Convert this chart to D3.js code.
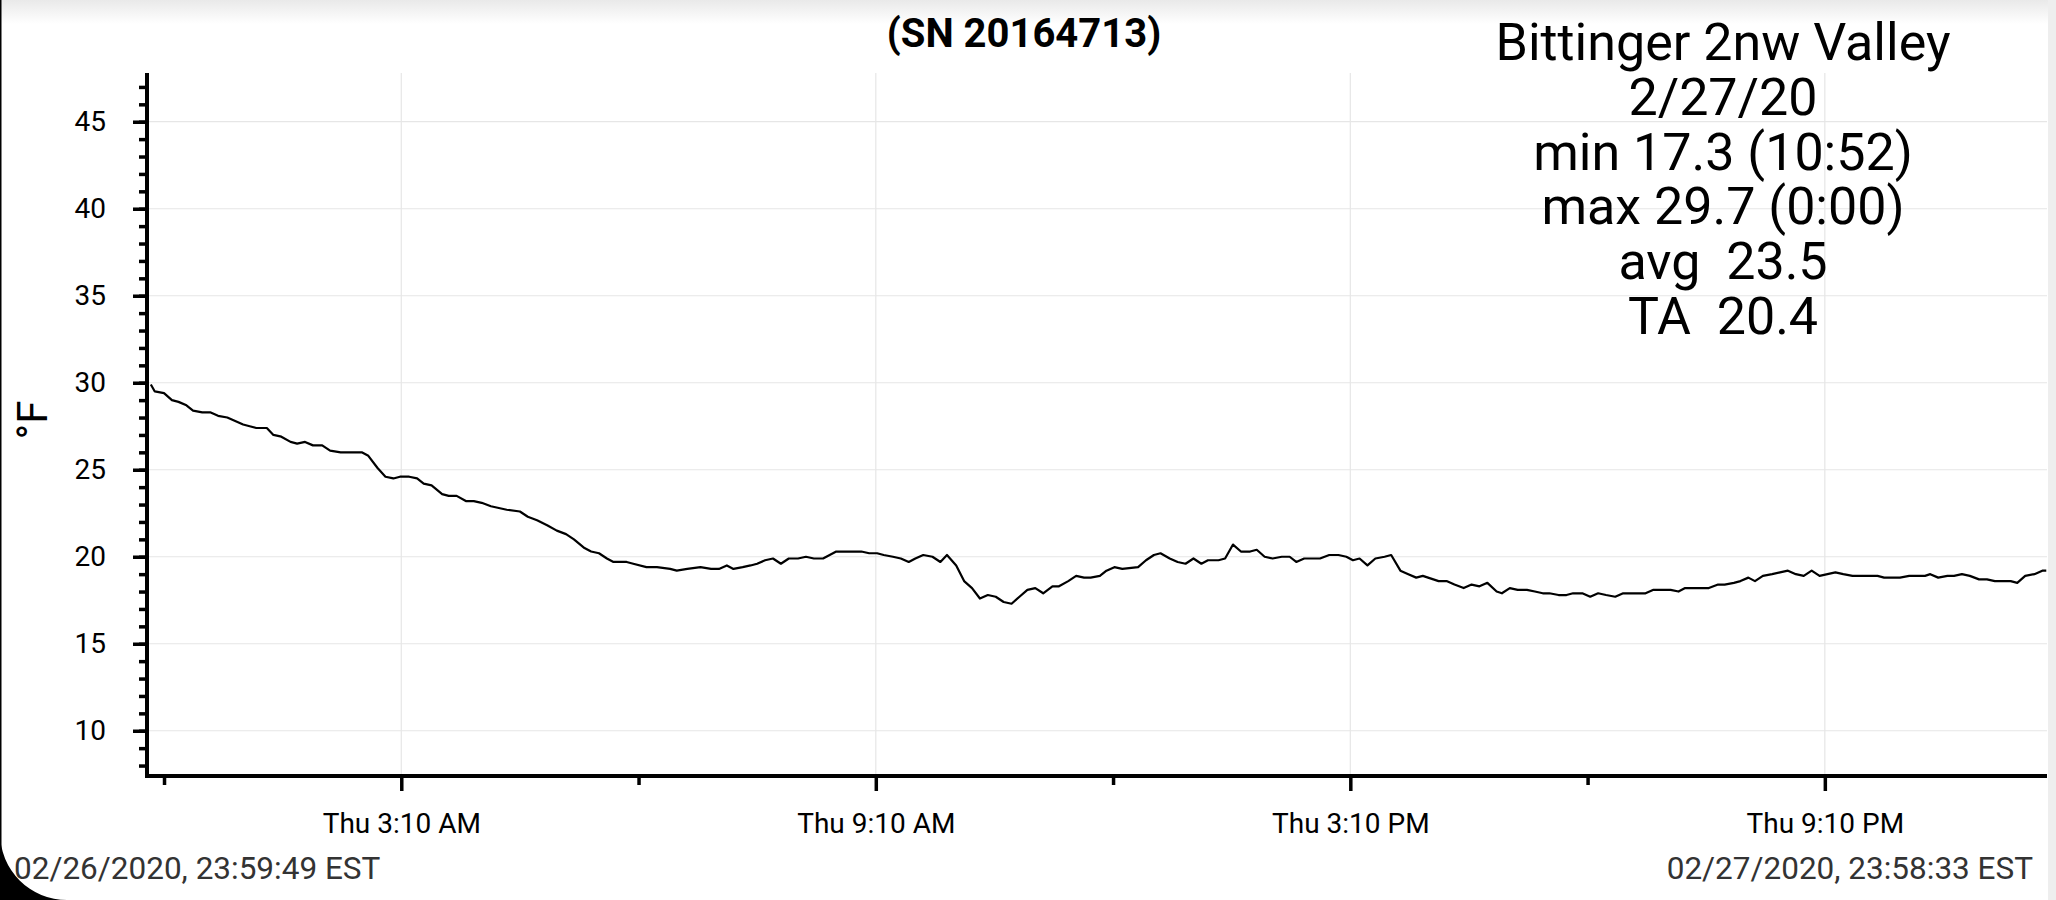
<head>
    <meta name="viewport" content="width=device-width, initial-scale=1">
    <style type="text/css">
        body { margin: 0; background: #ffffff; }
        text { font-family: Roboto, "Noto Sans", sans-serif; }
    </style>
    <script src="https://d3js.org/d3.v7.min.js"></script>
</head>
<body>
    <div id="chart">
        <script>

            // minutes after midnight 2/27/20 and temperature (F)
            const minutes = [
                0, 3, 10, 16, 21, 27, 32, 39, 45, 51, 58, 64, 70, 75, 80, 88, 93, 99, 106, 111,
                117, 123, 130, 136, 144, 149, 160, 165, 172, 178, 184, 189, 196, 202, 207, 213, 221, 226, 232, 239,
                245, 251, 258, 264, 270, 280, 286, 293, 301, 308, 315, 321, 329, 334, 340, 346, 351, 361, 366, 376,
                384, 394, 399, 407, 417, 425, 431, 437, 442, 449, 455, 460, 466, 472, 478, 484, 491, 497, 503, 510,
                515, 520, 526, 532, 539, 545, 551, 556, 563, 569, 575, 580, 586, 593, 599, 604, 611, 617, 623, 629,
                635, 641, 647, 653, 659, 665, 671, 677, 684, 689, 696, 702, 708, 713, 720, 725, 731, 737, 749, 755,
                761, 766, 773, 779, 785, 791, 797, 802, 810, 815, 821, 827, 834, 839, 845, 851, 858, 864, 869, 875,
                881, 887, 894, 901, 907, 912, 917, 923, 929, 936, 941, 948, 954, 960, 965, 973, 977, 983, 989, 996,
                1002, 1008, 1014, 1021, 1025, 1031, 1037, 1044, 1050, 1056, 1061, 1068, 1074, 1079, 1086, 1092, 1098, 1104, 1111, 1117,
                1124, 1134, 1140, 1146, 1153, 1159, 1164, 1170, 1177, 1182, 1189, 1194, 1201, 1206, 1212, 1217, 1223, 1230, 1236, 1242,
                1248, 1254, 1260, 1266, 1272, 1278, 1284, 1291, 1297, 1303, 1310, 1315, 1321, 1327, 1334, 1340, 1346, 1350, 1356, 1363,
                1368, 1374, 1380, 1387, 1393, 1399, 1406, 1411, 1416, 1422, 1429, 1435, 1438
            ];
            const tempsF = [
                29.9, 29.5, 29.4, 29.0, 28.9, 28.7, 28.4, 28.3, 28.3, 28.1, 28.0, 27.8, 27.6, 27.5, 27.4, 27.4, 27.0, 26.9, 26.6, 26.5,
                26.6, 26.4, 26.4, 26.1, 26.0, 26.0, 26.0, 25.8, 25.1, 24.6, 24.5, 24.6, 24.6, 24.5, 24.2, 24.1, 23.6, 23.5, 23.5, 23.2,
                23.2, 23.1, 22.9, 22.8, 22.7, 22.6, 22.3, 22.1, 21.8, 21.5, 21.3, 21.0, 20.5, 20.3, 20.2, 19.9, 19.7, 19.7, 19.6, 19.4,
                19.4, 19.3, 19.2, 19.3, 19.4, 19.3, 19.3, 19.5, 19.3, 19.4, 19.5, 19.6, 19.8, 19.9, 19.6, 19.9, 19.9, 20.0, 19.9, 19.9,
                20.1, 20.3, 20.3, 20.3, 20.3, 20.2, 20.2, 20.1, 20.0, 19.9, 19.7, 19.9, 20.1, 20.0, 19.7, 20.1, 19.5, 18.6, 18.2, 17.6,
                17.8, 17.7, 17.4, 17.3, 17.7, 18.1, 18.2, 17.9, 18.3, 18.3, 18.6, 18.9, 18.8, 18.8, 18.9, 19.2, 19.4, 19.3, 19.4, 19.8,
                20.1, 20.2, 19.9, 19.7, 19.6, 19.9, 19.6, 19.8, 19.8, 19.9, 20.7, 20.3, 20.3, 20.4, 20.0, 19.9, 20.0, 20.0, 19.7, 19.9,
                19.9, 19.9, 20.1, 20.1, 20.0, 19.8, 19.9, 19.5, 19.9, 20.0, 20.1, 19.2, 19.0, 18.8, 18.9, 18.7, 18.6, 18.6, 18.4, 18.2,
                18.4, 18.3, 18.5, 18.0, 17.9, 18.2, 18.1, 18.1, 18.0, 17.9, 17.9, 17.8, 17.8, 17.9, 17.9, 17.7, 17.9, 17.8, 17.7, 17.9,
                17.9, 17.9, 18.1, 18.1, 18.1, 18.0, 18.2, 18.2, 18.2, 18.2, 18.4, 18.4, 18.5, 18.6, 18.8, 18.6, 18.9, 19.0, 19.1, 19.2,
                19.0, 18.9, 19.2, 18.9, 19.0, 19.1, 19.0, 18.9, 18.9, 18.9, 18.9, 18.8, 18.8, 18.8, 18.9, 18.9, 18.9, 19.0, 18.8, 18.9,
                18.9, 19.0, 18.9, 18.7, 18.7, 18.6, 18.6, 18.6, 18.5, 18.9, 19.0, 19.2, 19.2
            ];

            // axis ticks
            const xMajorTicks = [190, 550, 910, 1270];
            const xMajorLabels = ["Thu 3:10 AM", "Thu 9:10 AM", "Thu 3:10 PM", "Thu 9:10 PM"];
            const xMinorTicks = [10, 370, 730, 1090];
            const yMajorTicks = [10, 15, 20, 25, 30, 35, 40, 45];
            const yMinorTicks = d3.range(8, 48);

            const title = "(SN 20164713)";
            const statLines = ["Bittinger 2nw Valley", "2/27/20", "min 17.3 (10:52)", "max 29.7 (0:00)", "avg  23.5", "TA  20.4"];
            const startLabel = "02/26/2020, 23:59:49 EST";
            const endLabel = "02/27/2020, 23:58:33 EST";
            const yLabel = "°F";

            const width = 2056, height = 900;
            const plotLeft = 147, plotRight = 2047, plotTop = 73, plotBottom = 776;

            const svg = d3.select("#chart")
                .append("svg")
                .attr("width", width)
                .attr("height", height);

            // screenshot frame bits
            const grad = svg.append("defs").append("linearGradient")
                .attr("id", "topfade").attr("x1", 0).attr("y1", 0).attr("x2", 0).attr("y2", 1);
            grad.append("stop").attr("offset", "0%").attr("stop-color", "#e9e9e9");
            grad.append("stop").attr("offset", "100%").attr("stop-color", "#ffffff");
            svg.append("rect").attr("x", 0).attr("y", 0).attr("width", width).attr("height", 24)
                .attr("fill", "url(#topfade)");
            svg.append("rect").attr("x", 2048).attr("y", 0).attr("width", 8).attr("height", height)
                .attr("fill", "#eeeeee");
            svg.append("rect").attr("x", 0).attr("y", 0).attr("width", 1.5).attr("height", height)
                .attr("fill", "#000");
            svg.append("path")
                .attr("d", "M0,833 A67,67 0 0 0 67,900 L0,900 Z")
                .attr("fill", "#000");

            const x = d3.scaleLinear()
                .domain([-0.18, 1438.55])
                .range([150.6, plotRight]);

            const y = d3.scaleLinear()
                .domain([7.4, 47.8])
                .range([plotBottom, plotTop]);

            // grid
            svg.append("g")
                .selectAll("line")
                .data(yMajorTicks)
                .enter().append("line")
                .attr("x1", plotLeft).attr("x2", plotRight)
                .attr("y1", d => y(d)).attr("y2", d => y(d))
                .attr("stroke", "#e6e6e6").attr("stroke-width", 1.2);

            svg.append("g")
                .selectAll("line")
                .data(xMajorTicks)
                .enter().append("line")
                .attr("x1", d => x(d)).attr("x2", d => x(d))
                .attr("y1", plotTop).attr("y2", plotBottom)
                .attr("stroke", "#e6e6e6").attr("stroke-width", 1.2);

            // line
            const series = minutes.map((m, i) => ({ m: m, t: tempsF[i] }));
            const line = d3.line()
                .x(d => x(d.m))
                .y(d => y(d.t));

            svg.append("path")
                .datum(series)
                .attr("fill", "none")
                .attr("stroke", "#000")
                .attr("stroke-width", 2.2)
                .attr("stroke-linejoin", "round")
                .attr("d", line);

            // y axis
            const yMinor = svg.append("g")
                .attr("transform", `translate(${plotLeft},0)`)
                .call(d3.axisLeft(y).tickValues(yMinorTicks).tickSize(8).tickFormat(""));
            yMinor.select(".domain").remove();

            const yMajor = svg.append("g")
                .attr("transform", `translate(${plotLeft},0)`)
                .call(d3.axisLeft(y).tickValues(yMajorTicks).tickSize(14).tickSizeOuter(0).tickPadding(27));

            // x axis
            const xMinor = svg.append("g")
                .attr("transform", `translate(0,${plotBottom})`)
                .call(d3.axisBottom(x).tickValues(xMinorTicks).tickSize(9).tickFormat(""));
            xMinor.select(".domain").remove();

            const xMajor = svg.append("g")
                .attr("transform", `translate(0,${plotBottom})`)
                .call(d3.axisBottom(x).tickValues(xMajorTicks).tickSize(15).tickSizeOuter(0).tickPadding(22)
                    .tickFormat((d, i) => xMajorLabels[i]));

            svg.selectAll(".tick line").attr("stroke", "#000").attr("stroke-width", 3.5);
            svg.selectAll(".tick text").attr("fill", "#000").style("font-size", "28px")
                .style("font-family", "Roboto, sans-serif");

            // axis lines drawn over the tick roots
            svg.append("line")
                .attr("x1", plotLeft).attr("x2", plotLeft)
                .attr("y1", plotTop).attr("y2", plotBottom + 2)
                .attr("stroke", "#000").attr("stroke-width", 4);
            svg.append("line")
                .attr("x1", plotLeft - 2).attr("x2", plotRight)
                .attr("y1", plotBottom).attr("y2", plotBottom)
                .attr("stroke", "#000").attr("stroke-width", 4);
            yMajor.select(".domain").remove();
            xMajor.select(".domain").remove();

            // texts
            svg.append("text")
                .attr("x", 1024).attr("y", 47)
                .attr("text-anchor", "middle")
                .style("font-size", "40px").style("font-weight", "bold")
                .text(title);

            svg.selectAll(".stat")
                .data(statLines)
                .enter().append("text")
                .attr("class", "stat")
                .attr("x", 1723)
                .attr("y", (d, i) => 60 + i * 54.8)
                .attr("text-anchor", "middle")
                .style("font-size", "52px")
                .style("white-space", "pre")
                .attr("xml:space", "preserve")
                .text(d => d);

            svg.append("text")
                .attr("transform", "translate(47,420) rotate(-90)")
                .attr("text-anchor", "middle")
                .style("font-size", "42px")
                .text(yLabel);

            svg.append("text")
                .attr("x", 14).attr("y", 879)
                .style("font-size", "31.5px").attr("fill", "#333")
                .text(startLabel);

            svg.append("text")
                .attr("x", 2033).attr("y", 879)
                .attr("text-anchor", "end")
                .style("font-size", "31.5px").attr("fill", "#333")
                .text(endLabel);

        </script>
    </div>
</body>
